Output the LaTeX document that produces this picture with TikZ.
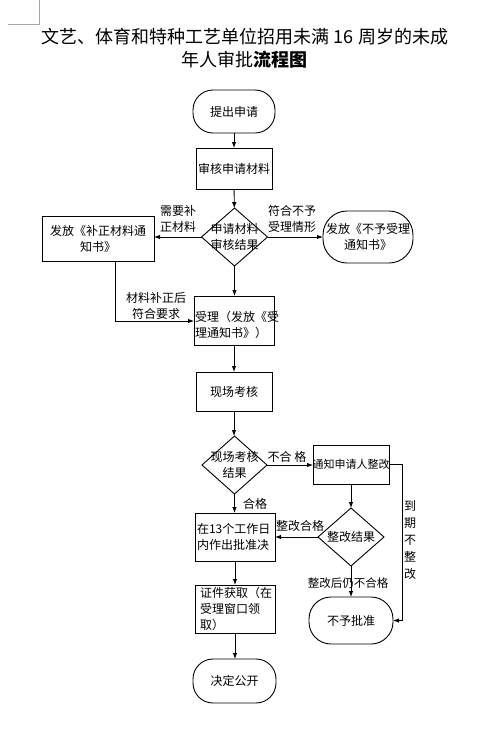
\documentclass[tikz,border=0pt]{standalone}
\usepackage{fontspec}
\setmainfont{Noto Sans CJK SC}
\usetikzlibrary{shapes.geometric,arrows.meta}
\begin{document}
\begin{tikzpicture}[x=1pt,y=-1pt,
  every node/.style={inner sep=0pt,outer sep=0pt},
  box/.style={draw,line width=0.9pt,rectangle},
  stad/.style={draw,line width=0.9pt,rectangle,rounded corners=20pt},
  dia/.style={draw,line width=0.9pt,diamond,inner sep=0pt},
  txt/.style={font=\fontsize{12}{16}\selectfont,align=center},
  lab/.style={font=\fontsize{12}{16}\selectfont,align=center},
  arr/.style={line width=0.9pt,-{Latex[length=6pt,width=4.5pt]}},
  ln/.style={line width=0.9pt}]
\fill[white] (0,0) rectangle (482,740);
\useasboundingbox (0,0) rectangle (482,740);
% corner mark
\draw[gray!70,line width=0.6pt] (8,24) -- (39,24) -- (39,0);
% title
\node (t1) at (245,37) {\fontsize{18}{22}\selectfont 文艺、体育和特种工艺单位招用未满 16 周岁的未成};
\node (t2) at (244,60) {\fontsize{18}{22}\selectfont 年人审批\textbf{流程图}};
% nodes
\node[stad,minimum width=82,minimum height=43] (start) at (234,111.5) {};
\node[txt] (startT) at (start) {提出申请};
\node[box,minimum width=76,minimum height=41] (review) at (234,168.5) {};
\node[txt] (reviewT) at (review) {审核申请材料};
\node[dia,minimum width=66,minimum height=58] (d1) at (234.5,237) {};
\node[txt] (d1T) at (d1) {申请材料\\审核结果};
\node[box,minimum width=112,minimum height=45] (lb) at (98,238.5) {};
\node[txt] (lbT) at (lb) {发放《补正材料通\\知书》};
\node[stad,rounded corners=24pt,minimum width=90,minimum height=52] (rb) at (368,237) {};
\node[txt] (rbT) at (rb) {发放《不予受理\\通知书》};
\node[box,minimum width=80,minimum height=49] (acc) at (234,320.5) {};
\node[txt,align=left,anchor=west] (accT) at ([xshift=1pt,yshift=-4pt]acc.west) {受理（发放《受\\理通知书》）};
\node[box,minimum width=76,minimum height=39] (fc) at (234,391.5) {};
\node[txt] (fcT) at (fc) {现场考核};
\node[dia,minimum width=65,minimum height=58] (d2) at (234.5,465) {};
\node[txt] (d2T) at (d2) {现场考核\\结果};
\node[box,minimum width=76,minimum height=39] (nb) at (351,464.5) {};
\node[txt,font=\fontsize{11}{14}\selectfont] (nbT) at (nb) {通知申请人整改};
\node[dia,minimum width=66,minimum height=58] (d3) at (351,537) {};
\node[txt] (d3T) at (d3) {整改结果};
\node[box,minimum width=80,minimum height=48] (ap) at (235,537) {};
\node[txt,align=left,anchor=west] (apT) at ([xshift=2pt]ap.west) {在13个工作日\\内作出批准决};
\node[box,minimum width=80,minimum height=48] (ce) at (235,609) {};
\node[txt,align=left,anchor=west,font=\fontsize{12}{16}\selectfont] (ceT) at ([xshift=5pt]ce.west) {证件获取（在\\受理窗口领\\取）};
\node[stad,rounded corners=22pt,minimum width=84,minimum height=47] (rj) at (351,620.5) {};
\node[txt] (rjT) at (rj) {不予批准};
\node[stad,minimum width=83,minimum height=44] (en) at (234.5,681) {};
\node[txt] (enT) at (en) {决定公开};
% connectors
\draw[arr] (start) -- (review);
\draw[arr] (review) -- (d1);
\draw[arr] (d1.west) -- (d1.west -| lb.east);
\draw[arr] (d1.east) -- (d1.east -| rb.west);
\coordinate (c1) at (115,321);
\draw[arr] (c1 |- lb.south) -- (c1) -- (c1 -| acc.west);
\draw[arr] (d1.south) -- (d1.south |- acc.north);
\draw[arr] (acc.south) -- (acc.south |- fc.north);
\draw[arr] (fc.south) -- (fc.south |- d2.north);
\draw[arr] (d2.east) -- (d2.east -| nb.west);
\coordinate (c2) at (402,620.5);
\draw[arr] (nb.east) -- (nb.east -| c2) -- (c2) -- (rj.east);
\draw[arr] (nb.south) -- (nb.south |- d3.north);
\draw[arr] (d3.west) -- (d3.west -| ap.east);
\draw[arr] (d3.south) -- (d3.south |- rj.north);
\draw[arr] (d2.south) -- (d2.south |- ap.north);
\draw[arr] (ap.south) -- (ap.south |- ce.north);
\draw[arr] (ce.south) -- (ce.south |- en.north);
% labels
\node[lab] (l1) at (178,219) {需要补\\正材料};
\node[lab] (l2) at (292,219) {符合不予\\受理情形};
\node[lab] (l3) at (156,306) {材料补正后\\符合要求};
\node[lab] (l4) at (287,457) {不合 格};
\node[lab] (l5) at (255,504) {合格};
\node[lab] (l6) at (300,526) {整改合格};
\node[lab,font=\fontsize{11.5}{14}\selectfont] (l7) at (348,583) {整改后仍不合格};
\node[lab,font=\fontsize{12}{17}\selectfont] (l8) at (410,540) {到\\期\\不\\整\\改};
\end{tikzpicture}
\end{document}
